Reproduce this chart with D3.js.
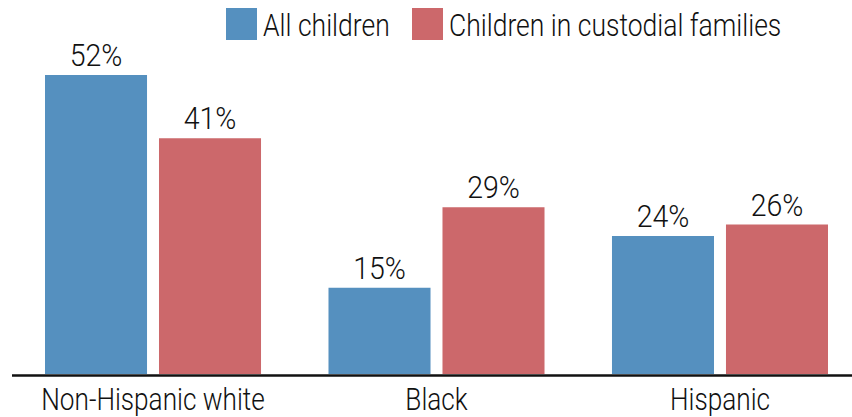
<!DOCTYPE html>
<html>
<head>
<meta charset="utf-8">
<script src="https://cdn.jsdelivr.net/npm/d3@7"></script>
<style>
  html, body { margin: 0; padding: 0; background: #fff; }
  svg text { font-family: Roboto, "Liberation Sans Narrow", sans-serif; font-weight: 300; fill: #111; }
</style>
</head>
<body>
<svg id="chart" width="852" height="417"></svg>
<script>
// Share of children by race/ethnicity
const categories = ["Non-Hispanic white", "Black", "Hispanic"];
const seriesNames = ["All children", "Children in custodial families"];
const allChildren = [52, 15, 24];
const custodialFamilies = [41, 29, 26];
const colors = ["#5590bf", "#cc686b"];

const series = [allChildren, custodialFamilies];

const svg = d3.select("#chart");
const W = 852;
const baseline = 374;

const x0 = d3.scaleBand().domain(categories).range([45, 828]).paddingInner(0.238).paddingOuter(0);
const x1 = d3.scaleBand().domain(seriesNames).range([0, x0.bandwidth()]).paddingInner(0.105).paddingOuter(0);
const y = d3.scaleLinear().domain([0, 52]).range([baseline, 75]);

// places a horizontally condensed text label at (x, y)
function label(sel, x, y, size, squeeze, anchor) {
  return sel.append("text")
    .attr("transform", `translate(${x},${y}) scale(${squeeze},1)`)
    .attr("text-anchor", anchor)
    .attr("font-size", size);
}

const groups = svg.selectAll("g.group")
  .data(categories)
  .join("g")
  .attr("class", "group")
  .attr("transform", d => `translate(${x0(d)},0)`);

groups.each(function(cat, i) {
  const g = d3.select(this);
  const vals = seriesNames.map((s, j) => ({ s, v: series[j][i], c: colors[j] }));
  g.selectAll("rect")
    .data(vals)
    .join("rect")
    .attr("x", d => x1(d.s))
    .attr("y", d => y(d.v))
    .attr("width", x1.bandwidth())
    .attr("height", d => baseline - y(d.v))
    .attr("fill", d => d.c);
  vals.forEach(d => {
    label(g, x1(d.s) + x1.bandwidth() / 2, y(d.v) - 9, 31, 0.92, "middle").text(d.v + "%");
  });
});

// baseline axis
svg.append("line")
  .attr("x1", 12).attr("x2", W)
  .attr("y1", baseline + 1.5).attr("y2", baseline + 1.5)
  .attr("stroke", "#111").attr("stroke-width", 2.5);

// category labels
categories.forEach(c => {
  label(svg, x0(c) + x0.bandwidth() / 2, 409.5, 31, 0.845, "middle").text(c);
});

// legend
const legendX = [226, 412];
seriesNames.forEach((s, i) => {
  const g = svg.append("g").attr("transform", `translate(${legendX[i]},8)`);
  g.append("rect").attr("width", 31).attr("height", 32).attr("fill", colors[i]);
  label(g, 37, 28, 31, 0.855, "start").text(s);
});
</script>
</body>
</html>
